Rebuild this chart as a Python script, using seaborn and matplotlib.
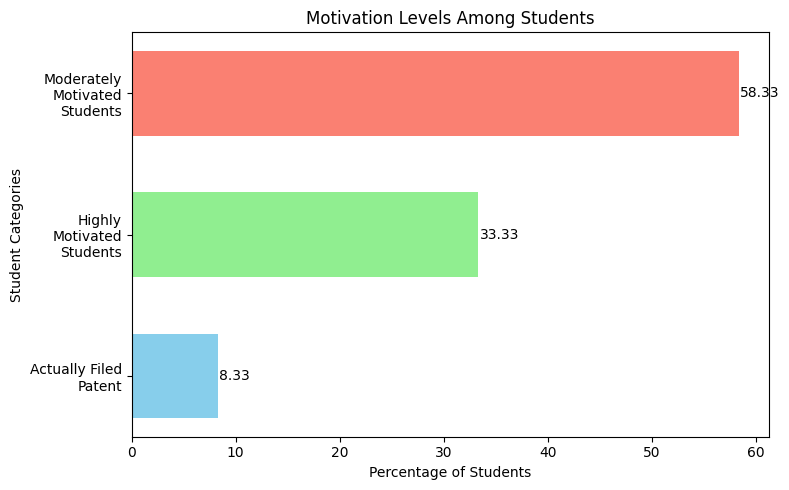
import matplotlib
matplotlib.use("Agg")
import matplotlib.pyplot as plt
import seaborn as sns
import pandas as pd

# Données
categories = ["Actually Filed\nPatent", "Highly\nMotivated\nStudents", "Moderately\nMotivated\nStudents"]
percentages = [8.33, 33.33, 58.33]
colors = ["skyblue", "lightgreen", "salmon"]

df = pd.DataFrame({"category": categories, "pct": percentages})

fig, ax = plt.subplots(figsize=(8, 5), dpi=100)

# seaborn met la première catégorie en haut -> on inverse l'ordre
order = categories[::-1]
palette = dict(zip(categories, colors))
bar_h = 0.6
sns.barplot(data=df, y="category", x="pct", hue="category", order=order,
            palette=palette, width=bar_h, orient="h", legend=False, ax=ax,
            saturation=1)

for patch in ax.patches:
    w = patch.get_width()
    y = patch.get_y() + patch.get_height() / 2
    ax.text(w + 0.1, y, f"{w:.2f}", va="center", ha="left", fontsize=10)

# marges façon matplotlib (5 %)
n = len(categories)
pad = 0.05 * (n - 1 + bar_h)
ax.set_ylim(n - 1 + bar_h / 2 + pad, -bar_h / 2 - pad)
ax.set_xlim(0, max(percentages) * 1.05)

ax.set_title("Motivation Levels Among Students")
ax.set_xlabel("Percentage of Students")
ax.set_ylabel("Student Categories")

plt.tight_layout()
plt.savefig("out.png", dpi=100, bbox_inches="tight")
